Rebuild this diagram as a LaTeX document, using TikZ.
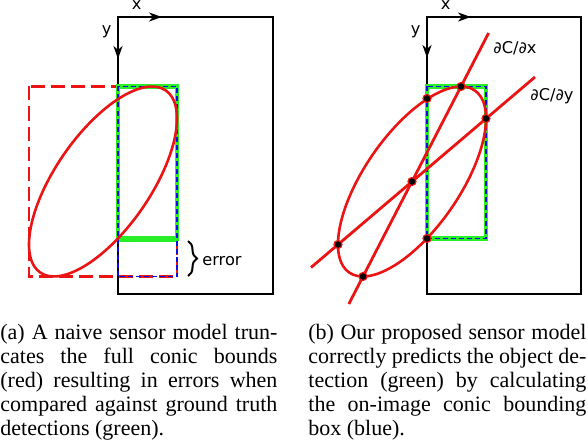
\documentclass[tikz,border=0pt]{standalone}
\usepackage{fontspec}
\setmainfont{Liberation Serif}
\newfontfamily\labfont{DejaVu Sans}
\usetikzlibrary{arrows.meta,decorations.pathreplacing}
\definecolor{cred}{RGB}{235,20,20}
\definecolor{cgreen}{RGB}{40,238,40}
\definecolor{cblue}{RGB}{10,10,225}
\begin{document}
\begin{tikzpicture}[x=0.5pt,y=-0.5pt,
  frame/.style={draw=black,line width=1.1pt},
  axisarrow/.style={line width=1.1pt,-{Stealth[length=6.5pt,width=4.5pt,inset=2pt]}},
  lab/.style={font=\labfont\fontsize{8.1}{9.5}\selectfont,inner sep=0pt,anchor=base west},
  conic/.style={draw=cred,line width=1.3pt},
  bbox/.style={draw=cgreen,line width=2.3pt},
  errbar/.style={draw=cgreen,line width=3pt},
  truebox/.style={draw=cblue,line width=0.8pt,dash pattern=on 2.5pt off 1.5pt},
  fullbox/.style={draw=cred,line width=1.1pt,dash pattern=on 7pt off 3pt},
  gradline/.style={draw=cred,line width=1.4pt},
  dotpt/.style={circle,fill=black,draw=cred,line width=0.6pt,inner sep=0pt,minimum size=4pt},
  capline/.style={anchor=base west,inner sep=0pt,font=\fontsize{11}{12.1}\selectfont}
]
\useasboundingbox (0,0) rectangle (588,444);

% ---------- panel (a) ----------
\draw[frame] (118,17) rectangle (273,294);
\draw[axisarrow] (118,17) -- (162,17);
\draw[axisarrow] (118,17) -- (118,59);
\node[lab] (xa) at (131.5,10) {x};
\node[lab] (ya) at (101.5,35) {y};
\draw[fullbox] (29,86.5) rectangle (177,276.5);
\draw[bbox] (118,86.5) rectangle (177,239);
\draw[errbar] (118,239) -- (177,239);
\draw[truebox] (118,86.5) rectangle (177,276.5);
\draw[conic] plot[smooth cycle,samples=72,domain=0:355]
  ({103+62.8*cos(\x)-39.18*sin(\x)},{181.5-91.03*cos(\x)-27.03*sin(\x)});
\draw[line width=1pt,decorate,decoration={brace,amplitude=4.5pt}] (188,241) -- (188,276);
\node[lab] (err) at (202,265) {error};

% ---------- panel (b) ----------
\draw[frame] (427,17) rectangle (581,294);
\draw[axisarrow] (427,17) -- (471,17);
\draw[axisarrow] (427,17) -- (427,58);
\node[lab] (xb) at (440.5,10) {x};
\node[lab] (yb) at (410.5,35) {y};
\draw[bbox] (427,86.5) rectangle (486,238.5);
\draw[truebox] (427,86.5) rectangle (486,238.5);
\draw[conic] plot[smooth cycle,samples=72,domain=0:355]
  ({412+62.8*cos(\x)-39.18*sin(\x)},{181.5-91.03*cos(\x)-27.03*sin(\x)});
\coordinate (dxa) at (488.6,33);
\coordinate (dxb) at (348.8,304);
\coordinate (dya) at (535,77);
\coordinate (dyb) at (311,267.5);
\draw[gradline] (dxb) -- (dxa);
\draw[gradline] (dyb) -- (dya);
\node[dotpt] (ptop) at (461,86.5) {};
\node[dotpt] (pbot) at (363,276.5) {};
\node[dotpt] (prgt) at (486,118.5) {};
\node[dotpt] (plft) at (338,244.5) {};
\node[dotpt] (pcen) at (412,181.5) {};
\node[dotpt] (pe1) at (427,98.5) {};
\node[dotpt] (pe2) at (427,238.5) {};
\node[lab] (lbx) at (493,54) {∂C/∂x};
\node[lab] (lby) at (530,101) {∂C/∂y};

% ---------- captions ----------
\node[capline] (ca1) at (0,339) {\makebox[138.5pt][s]{(a) A naive sensor model trun-}};
\node[capline] (ca2) at (0,363.2) {\makebox[138.5pt][s]{cates the full conic bounds}};
\node[capline] (ca3) at (0,387.4) {\makebox[138.5pt][s]{(red) resulting in errors when}};
\node[capline] (ca4) at (0,411.6) {\makebox[138.5pt][s]{compared against ground truth}};
\node[capline] (ca5) at (0,435.8) {detections (green).};
\node[capline] (cb1) at (308,339) {\makebox[139pt][s]{(b) Our proposed sensor model}};
\node[capline] (cb2) at (308,363.2) {\makebox[139pt][s]{correctly predicts the object de-}};
\node[capline] (cb3) at (308,387.4) {\makebox[139pt][s]{tection (green) by calculating}};
\node[capline] (cb4) at (308,411.6) {\makebox[139pt][s]{the on-image conic bounding}};
\node[capline] (cb5) at (308,435.8) {box (blue).};
\end{tikzpicture}
\end{document}
